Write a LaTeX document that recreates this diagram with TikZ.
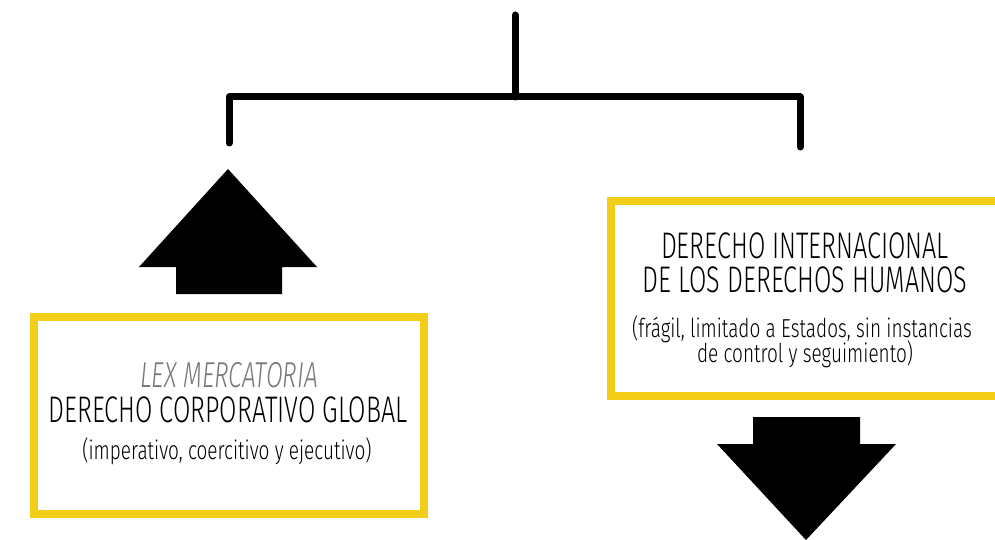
\documentclass[tikz,border=0pt]{standalone}
\usepackage{fontspec}
\setmainfont{Fira Sans Light}[FakeStretch=0.68]
\newfontfamily\notefont{Fira Sans Light}[FakeStretch=0.73]
\definecolor{boxyellow}{RGB}{242,206,24}
\definecolor{subgray}{RGB}{120,120,120}
\tikzset{
  bracket/.style={line width=7pt, line cap=round, line join=round},
  ybox/.style={draw=boxyellow, line width=8.5pt, fill=white},
  bigarrow/.style={fill=black},
  title/.style={anchor=base, inner sep=0pt, font=\fontsize{37}{40}\selectfont},
  sub/.style={anchor=base, inner sep=0pt, font=\fontsize{36}{40}\selectfont\itshape, text=subgray},
  note/.style={anchor=base, inner sep=0pt, font=\notefont\fontsize{26}{29}\selectfont},
}
\begin{document}
\begin{tikzpicture}[x=1pt,y=-1pt]
\useasboundingbox (0,0) rectangle (995,540);
\clip (0,0) rectangle (995,540);
% bracket
\coordinate (top) at (515,15);
\coordinate (mid) at (515,97);
\coordinate (lt) at (229,97);
\coordinate (rt) at (800,97);
\coordinate (lb) at (229,143);
\coordinate (rb) at (800,147);
\draw[bracket] (top) -- (mid);
\draw[bracket] (lb) -- (lt) -- (rt) -- (rb);
% up arrow
\path[bigarrow] (228,169) -- (317,267) -- (282,267) -- (282,294) -- (176,294) -- (176,267) -- (139,267) -- cycle;
% down arrow
\path[bigarrow] (753,417) -- (860,417) -- (860,444) -- (896,444) -- (806,540) -- (717,444) -- (753,444) -- cycle;
% left box
\node[ybox, minimum width=390pt, minimum height=197pt] (lbox) at (229,415.5) {};
\node[sub] (lex) at (229,387) {LEX MERCATORIA};
\node[title] (dcg) at (228,422) {DERECHO CORPORATIVO GLOBAL};
\node[note] (imp) at (227,459) {(imperativo, coercitivo y ejecutivo)};
% right box
\node[ybox, minimum width=420pt, minimum height=195pt] (rbox) at (821,298.5) {};
\node[title] (dih1) at (805,258) {DERECHO INTERNACIONAL};
\node[title] (dih2) at (805,292) {DE LOS DERECHOS HUMANOS};
\node[note] (fr1) at (802,337) {(frágil, limitado a Estados, sin instancias};
\node[note] (fr2) at (805,362) {de control y seguimiento)};
\end{tikzpicture}
\end{document}
